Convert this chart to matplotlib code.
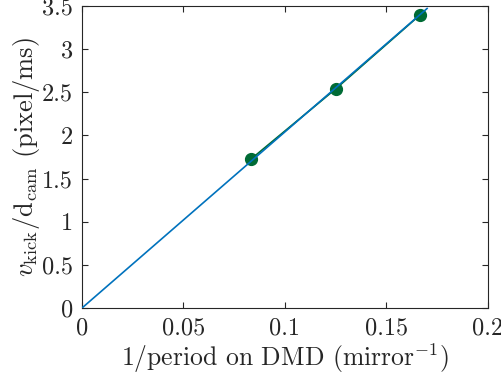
import numpy as np
import matplotlib
matplotlib.use("Agg")
import matplotlib.pyplot as plt

# Measured kick velocity vs. inverse grating period on the DMD
inv_period = [1/12, 1/8, 1/6]
velocity = [1.727, 2.54, 3.40]

x_ticks = [0, 0.05, 0.1, 0.15, 0.2]
x_tick_labels = ["0", "0.05", "0.1", "0.15", "0.2"]
y_ticks = [0, 0.5, 1, 1.5, 2, 2.5, 3, 3.5]
y_tick_labels = ["0", "0.5", "1", "1.5", "2", "2.5", "3", "3.5"]

# extent of the proportional fit line
fit_x = [0, 0.17]

plt.rcParams["font.family"] = "cmr10"
plt.rcParams["mathtext.fontset"] = "cm"
plt.rcParams["axes.formatter.use_mathtext"] = True

fig = plt.figure(figsize=(5.02, 3.78), dpi=100)
ax = fig.add_axes([82/502, 70/378, 406/502, 302/378])

xd = np.array(inv_period)
yd = np.array(velocity)
slope = np.sum(xd * yd) / np.sum(xd * xd)
fx = np.array(fit_x)

ax.plot(xd, yd, "-o", color="#006b35", lw=1.2, ms=8.5, zorder=2)
ax.plot(fx, slope * fx, "-", color="#0072BD", lw=1.2, zorder=3)

ax.set_xlim(0, 0.2)
ax.set_ylim(0, 3.5)
ax.set_xticks(x_ticks)
ax.set_xticklabels(x_tick_labels)
ax.set_yticks(y_ticks)
ax.set_yticklabels(y_tick_labels)

edge = "#262626"
for s in ax.spines.values():
    s.set_color(edge)
    s.set_linewidth(0.8)
ax.tick_params(direction="in", length=4, width=0.8, colors=edge,
               labelsize=17.5, top=True, right=True)
ax.tick_params(axis="x", pad=7)
ax.tick_params(axis="y", pad=6.5)
for lab in ax.get_xticklabels() + ax.get_yticklabels():
    lab.set_color("#262626")

ax.set_xlabel(r"1/period on DMD (mirror$^{-1}$)", fontsize=18.5,
              color="#262626", labelpad=1)
ax.set_ylabel(r"$v_{\rm kick}/{\rm d}_{\rm cam}$ (pixel/ms)", fontsize=19,
              color="#262626", labelpad=0)

fig.savefig("out.png", dpi=100)
